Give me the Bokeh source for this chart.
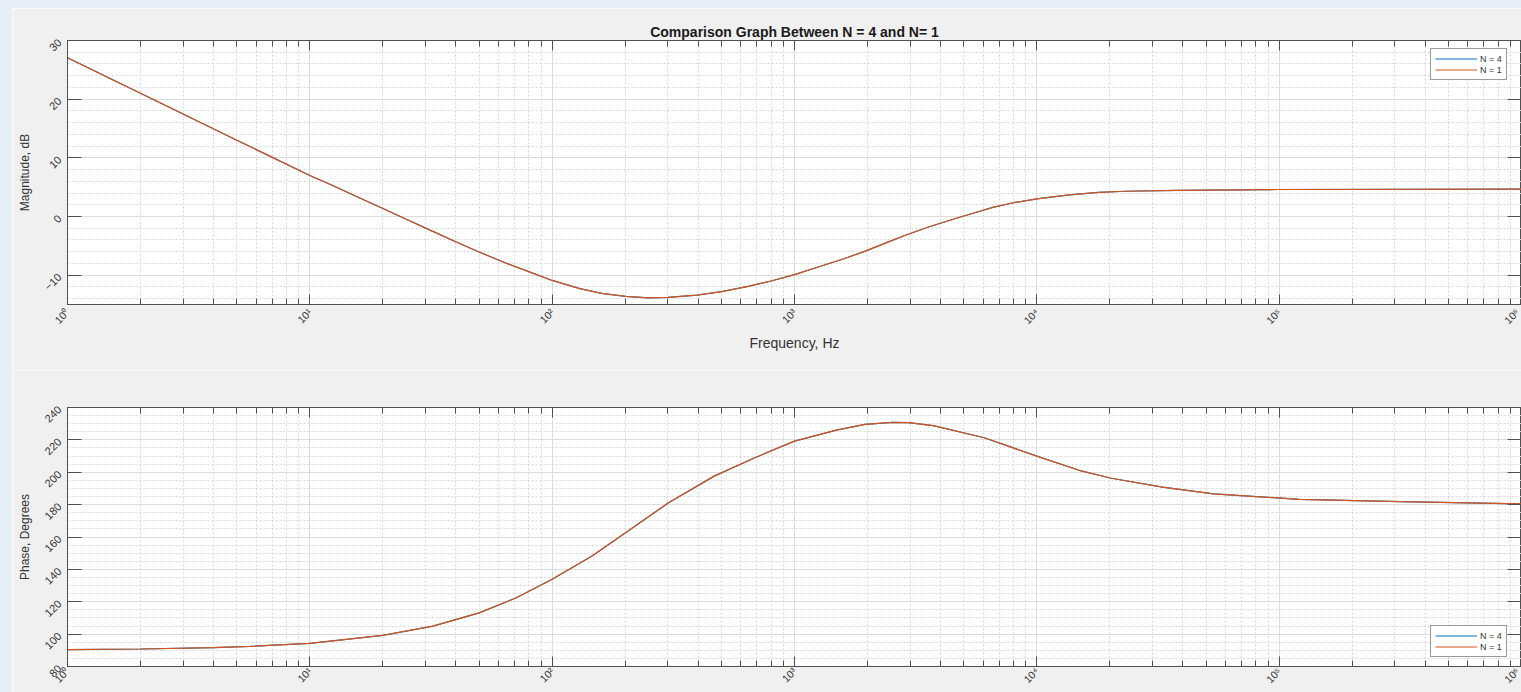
import math
from bokeh.plotting import figure
from bokeh.models import (LogAxis, LinearAxis, FixedTicker, Legend, LegendItem, Range1d, Spacer)
from bokeh.layouts import column, row
from bokeh.embed import file_html
from bokeh.resources import INLINE

# ---------------- data ----------------
SERIES = ["N = 4", "N = 1"]
COLORS = ["#0072BD", "#D95319"]

FREQ_MAG = [1, 2, 5, 10, 12.1, 15.5, 19.7, 25.4, 32, 40, 49.4, 65, 82.6, 100, 130,
            160, 201, 250, 300, 396, 500, 644, 800, 1000, 1300, 1600, 1960, 2400,
            2885, 3600, 4690, 5500, 6580, 8000, 10000, 13600, 18000, 23200, 38000,
            98000, 1000000]
MAG_N4 = [27.05, 21.0, 13.0, 7.0, 5.5, 3.45, 1.5, -0.6, -2.5, -4.3, -5.97, -8.0,
          -9.6, -10.9, -12.3, -13.1, -13.6, -13.86, -13.8, -13.4, -12.8, -11.9,
          -11.0, -9.9, -8.4, -7.2, -5.9, -4.45, -3.15, -1.75, -0.25, 0.6, 1.55,
          2.35, 3.0, 3.7, 4.1, 4.3, 4.45, 4.6, 4.65]
MAG_N1 = list(MAG_N4)  # the two curves coincide in the picture

FREQ_PH = [1, 2, 4, 5.66, 10, 20, 32.2, 50, 70.5, 100, 146, 205, 301, 466, 686,
           1000, 1489, 1954, 2535, 2950, 3740, 6070, 10000, 15240, 20300, 33000,
           53600, 121000, 316000, 1000000]
PH_N4 = [90.4, 90.8, 91.6, 92.4, 94.3, 99.2, 104.9, 113.1, 122.2, 133.9, 148.2,
         163.5, 181.0, 197.6, 209.0, 219.2, 226.0, 229.6, 230.8, 230.6, 228.8,
         221.3, 210.0, 200.8, 196.3, 190.8, 186.6, 183.3, 181.8, 180.5]
PH_N1 = list(PH_N4)

X_TICKS = [1, 10, 100, 1000, 10000, 100000, 1000000]
X_TICK_LABELS = ["10⁰", "10¹", "10²", "10³", "10⁴", "10⁵", "10⁶"]
MAG_TICKS = [-10, 0, 10, 20, 30]
PH_TICKS = [80, 100, 120, 140, 160, 180, 200, 220, 240]

TITLE = "Comparison Graph Between N = 4 and N= 1"
XLABEL = "Frequency, Hz"
MAG_LABEL = "Magnitude, dB"
PH_LABEL = "Phase, Degrees"

# ---------------- styling ----------------
FONT = "Liberation Sans"
AX = "#505050"
TXT = "#333333"
PANEL = "#f0f0f0"
OUTER = "#e6edf6"

x_minor = [m * 10 ** k for k in range(6) for m in range(2, 10)]


def style(p, yticks, ystep_minor, ylabel):
    xt = FixedTicker(ticks=X_TICKS, minor_ticks=x_minor)
    yminor = []
    v = yticks[0] - (yticks[1] - yticks[0])
    while v <= yticks[-1] + 1e-9:
        yminor.append(v)
        v += ystep_minor
    yt = FixedTicker(ticks=yticks, minor_ticks=yminor)

    p.background_fill_color = "white"
    p.border_fill_color = PANEL
    p.outline_line_color = AX
    p.outline_line_width = 1

    xa = p.below[0]
    ya = p.left[0]
    xa.ticker = xt
    xa.major_label_overrides = {t: l for t, l in zip(X_TICKS, X_TICK_LABELS)}
    ya.ticker = yt

    for a in (xa, ya):
        a.axis_line_color = AX
        a.major_tick_line_color = AX
        a.minor_tick_line_color = AX
        a.major_tick_out = 0
        a.minor_tick_out = 0
        a.major_label_text_font = FONT
        a.major_label_text_color = TXT
        a.axis_label_text_font = FONT
        a.axis_label_text_font_style = "normal"
        a.axis_label_text_color = TXT
        a.major_label_orientation = math.pi / 4
    xa.major_label_text_font_size = "10.5px"
    ya.major_label_text_font_size = "11px"
    xa.major_tick_in = 10
    xa.minor_tick_in = 6
    ya.major_tick_in = 14
    ya.minor_tick_in = 0
    ya.axis_label = ylabel
    ya.axis_label_text_font_size = "12px"
    ya.major_label_standoff = 8
    ya.axis_label_standoff = 6

    # box ticks on top and right (no labels)
    top = LogAxis(ticker=xt, major_label_text_color=None, major_label_text_font_size="1px",
                  major_label_standoff=0,
                  major_tick_in=10, major_tick_out=0, minor_tick_in=6, minor_tick_out=0,
                  axis_line_color=AX, major_tick_line_color=AX, minor_tick_line_color=AX)
    p.add_layout(top, "above")
    right = LinearAxis(ticker=yt, major_label_text_color=None, major_label_text_font_size="1px",
                       major_label_standoff=0,
                       major_tick_in=14, major_tick_out=0, minor_tick_in=0, minor_tick_out=0,
                       axis_line_color=AX, major_tick_line_color=AX)
    p.add_layout(right, "right")

    p.xgrid.ticker = xt
    p.ygrid.ticker = yt
    for g in (p.xgrid[0], p.ygrid[0]):
        g.grid_line_color = "#dcdcdc"
        g.grid_line_width = 1
        g.minor_grid_line_color = "#d6d6d6"
        g.minor_grid_line_dash = "2 2"
        g.minor_grid_line_width = 1
    return xa, ya


def add_lines(p, fx, ys, loc):
    rs = []
    for y, c in zip(ys, COLORS):
        rs.append(p.line(fx, y, line_color=c, line_width=1.2))
    leg = Legend(items=[LegendItem(label=s, renderers=[r]) for s, r in zip(SERIES, rs)],
                 location=loc, margin=0, padding=4, spacing=0,
                 glyph_width=42, glyph_height=11, label_height=11, label_standoff=3,
                 label_text_font=FONT, label_text_font_size="9px", label_text_color=TXT,
                 border_line_color="#333333", border_line_width=1,
                 background_fill_color="white", background_fill_alpha=1)
    p.add_layout(leg)


# ---------------- top: magnitude ----------------
p1 = figure(width=1509, height=362, x_axis_type="log",
            x_range=Range1d(1, 1e6), y_range=Range1d(-15, 30),
            output_backend="svg", toolbar_location=None,
            min_border_left=55, min_border_right=0, min_border_top=32, min_border_bottom=66)
p1.title.text = TITLE
p1.title.align = "center"
p1.title.text_font = FONT
p1.title.text_font_size = "14px"
p1.title.text_font_style = "bold"
p1.title.text_color = "#1a1a1a"
p1.title.standoff = 2
xa1, ya1 = style(p1, MAG_TICKS, 2, MAG_LABEL)
xa1.axis_label = XLABEL
xa1.axis_label_text_font_size = "14px"
xa1.axis_label_standoff = 2
xa1.major_label_standoff = 6
add_lines(p1, FREQ_MAG, [MAG_N4, MAG_N1], (1363, 224))

# ---------------- bottom: phase ----------------
p2 = figure(width=1509, height=322, x_axis_type="log",
            x_range=Range1d(1, 1e6), y_range=Range1d(80, 240),
            output_backend="svg", toolbar_location=None,
            min_border_left=55, min_border_right=0, min_border_top=37, min_border_bottom=24)
xa2, ya2 = style(p2, PH_TICKS, 5, PH_LABEL)
xa2.major_label_standoff = 3
add_lines(p2, FREQ_PH, [PH_N4, PH_N1], (1363, 9))

top_strip = Spacer(width=1521, height=8, styles={"background-color": OUTER})
left_strip = Spacer(width=12, height=684, styles={"background-color": OUTER})
p = column(top_strip, row(left_strip, column(p1, p2, spacing=0), spacing=0), spacing=0)
open("out.html", "w").write(file_html(p, INLINE))
